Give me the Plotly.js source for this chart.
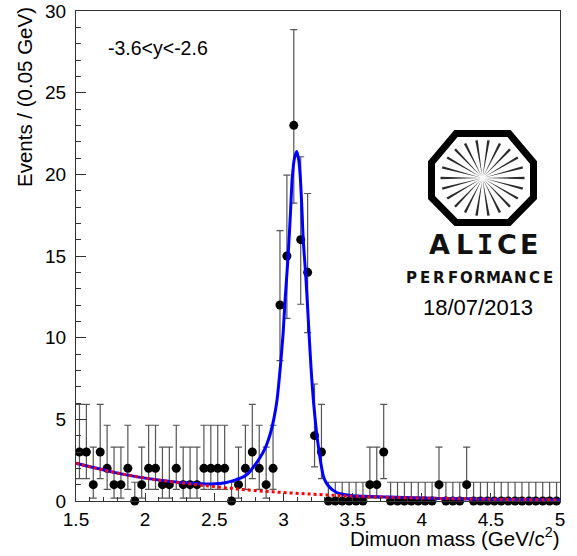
<!DOCTYPE html>
<html>
<head>
<meta charset="utf-8">
<script src="https://cdn.plot.ly/plotly-3.0.1.min.js"></script>
<style>
html,body{margin:0;padding:0;background:#fff;}
#chart{width:577px;height:556px;}
</style>
</head>
<body>
<div id="chart"></div>
<script>
// ---- data ----
const binCenters = [1.525,1.575,1.625,1.675,1.725,1.775,1.825,1.875,1.925,1.975,
  2.025,2.075,2.125,2.175,2.225,2.275,2.325,2.375,2.425,2.475,
  2.525,2.575,2.625,2.675,2.725,2.775,2.825,2.875,2.925,2.975,
  3.025,3.075,3.125,3.175,3.225,3.275,3.325,3.375,3.425,3.475,
  3.525,3.575,3.625,3.675,3.725,3.775,3.825,3.875,3.925,3.975,
  4.025,4.075,4.125,4.175,4.225,4.275,4.325,4.375,4.425,4.475,
  4.525,4.575,4.625,4.675,4.725,4.775,4.825,4.875,4.925,4.975];
const counts = [3,3,1,3,2,1,1,2,0,1,
  2,2,1,1,2,1,1,1,2,2,
  2,2,0,1,2,3,2,1,2,12,
  15,23,16,14,4,3,0,0,0,0,
  0,0,1,1,3,0,0,0,0,0,
  0,0,1,0,0,0,1,0,0,0,
  0,0,0,0,0,0,0,0,0,0];
// Poisson 68% intervals (lower / upper edge) per observed count
const intervalLow  = {0:0, 1:0.173, 2:0.708, 3:1.367, 4:2.086, 12:8.589, 14:10.308, 15:11.175, 16:12.046, 23:18.243};
const intervalHigh = {0:1.148, 1:3.300, 2:4.638, 3:5.918, 4:7.163, 12:16.555, 14:18.826, 15:19.954, 16:21.078, 23:28.861};

// total fit (blue)
const fitX = [1.5,1.75,2.0,2.25,2.4,2.5,2.58,2.65,2.713,2.75,2.785,2.83,2.862,2.885,2.906,2.93,2.954,2.978,2.998,3.012,
  3.034,3.051,3.063,3.08,3.097,3.112,3.123,3.135,3.143,3.16,3.172,3.185,3.199,3.216,3.24,3.256,3.275,3.29,3.31,3.33,
  3.36,3.39,3.45,3.5,3.75,4.0,4.25,4.5,4.75,5.0];
const fitY = [2.31,1.80,1.40,1.14,1.06,1.05,1.12,1.28,1.49,1.72,2.1,2.65,3.13,3.6,4.15,5.0,6.2,8.24,10.3,12.3,
  15.0,17.65,19.7,21.0,21.4,20.8,19.7,17.65,16.0,14.0,12.3,10.3,8.24,6.2,4.15,3.13,2.1,1.49,1.1,0.88,
  0.65,0.5,0.38,0.32,0.24,0.18,0.14,0.11,0.085,0.065];
// background (red dotted)
const bkgX = [1.5,1.75,2.0,2.25,2.5,2.75,3.0,3.25,3.5,3.75,4.0,4.25,4.5,4.75,5.0];
const bkgY = [2.31,1.80,1.40,1.12,0.88,0.67,0.52,0.40,0.30,0.23,0.18,0.14,0.11,0.085,0.065];

const rapidityLabel = '-3.6&lt;y&lt;-2.6';
const dateLabel = '18/07/2013';
const xTitle = 'Dimuon mass (GeV/c<sup>2</sup>)';
const yTitle = 'Events / (0.05 GeV)';
const refLabel = 'ALI-PERF-56950';

// ---- derived ----
const errPlus = counts.map(n => intervalHigh[n] - n);
const errMinus = counts.map(n => n - intervalLow[n]);

// pixel -> paper helpers for decoration placement
const L = 76, R = 560, T = 11, B = 501;
const px = v => (v - L) / (R - L);
const py = v => (B - v) / (B - T);

const FONT = 'Liberation Sans, Arial, Helvetica, sans-serif';

const traces = [
  {
    x: binCenters, y: counts, type: 'scatter', mode: 'markers',
    marker: {color: '#000', size: 9},
    cliponaxis: false,
    error_y: {type: 'data', symmetric: false, array: errPlus, arrayminus: errMinus,
              color: '#555', thickness: 1.2, width: 3.5},
    hoverinfo: 'x+y'
  },
  {
    x: fitX, y: fitY, type: 'scatter', mode: 'lines',
    line: {color: '#0000ff', width: 3, shape: 'spline', smoothing: 0.5}
  },
  {
    x: bkgX, y: bkgY, type: 'scatter', mode: 'lines',
    line: {color: '#ff0000', width: 3, dash: 'dot', shape: 'spline'}
  }
];

// ALICE logo shapes
const shapes = [];
const oct = [[456,133.5],[509,133.5],[533.5,162.5],[533.5,197.5],[509,222.5],[456,222.5],[431.5,197.5],[431.5,162.5]];
let path = 'M ' + oct.map(p => px(p[0]) + ',' + py(p[1])).join(' L ') + ' Z';
shapes.push({type: 'path', xref: 'paper', yref: 'paper', path: path,
             line: {color: '#000', width: 7}, fillcolor: 'rgba(0,0,0,0)'});
const cx = 482.5, cy = 178, rx = 42, ry = 38, nRays = 22;
for (let i = 0; i < nRays; i++) {
  const a = i * 2 * Math.PI / nRays;
  const da = 0.03;
  const x0 = cx + 2 * Math.cos(a), y0 = cy + 2 * Math.sin(a);
  const x1 = cx + rx * Math.cos(a - da), y1 = cy + ry * Math.sin(a - da);
  const x2 = cx + rx * Math.cos(a + da), y2 = cy + ry * Math.sin(a + da);
  shapes.push({type: 'path', xref: 'paper', yref: 'paper',
    path: `M ${px(x0)},${py(y0)} L ${px(x1)},${py(y1)} L ${px(x2)},${py(y2)} Z`,
    line: {width: 0}, fillcolor: '#2a2a2a'});
}

const annotations = [];
function addText(text, x, y, size, opts) {
  annotations.push(Object.assign({
    text: text, xref: 'paper', yref: 'paper', x: px(x), y: py(y),
    xanchor: 'center', yanchor: 'middle', showarrow: false,
    font: {family: FONT, size: size, color: '#000'}
  }, opts || {}));
}
// rapidity label
addText(rapidityLabel, 106, 48, 19.5, {xanchor: 'left'});
// ALICE letters
const aliceLetters = ['A','L','I','C','E'];
const aliceX = [439, 464, 485, 507, 529];
aliceLetters.forEach((c, i) => addText('<b>' + c + '</b>', aliceX[i], 245, 27,
  {font: {family: c === 'I' ? 'DejaVu Sans Mono' : 'DejaVu Sans', size: 27, color: '#111'}}));
const perfLetters = 'PERFORMANCE'.split('');
perfLetters.forEach((c, i) => addText('<b>' + c + '</b>', 411.8 + 13.6 * i, 278, 15,
  {font: {family: 'DejaVu Sans', size: 15, color: '#111'}}));
addText(dateLabel, 478, 308, 22);
// axis titles
addText(xTitle, 562, 537, 20.5, {xanchor: 'right'});
addText(yTitle, 24, 97, 20.5, {textangle: -90});
// faint reference label (cut at the bottom)
addText(refLabel, 97, 552, 15, {xanchor: 'right', yanchor: 'top', font: {family: FONT, size: 15, color: '#aaaaaa'}});

const axisCommon = {
  showgrid: false, zeroline: false, showline: true, mirror: true,
  linecolor: '#333', linewidth: 1, ticks: 'inside', tickcolor: '#333',
  tickfont: {family: FONT, size: 19, color: '#000'}, automargin: false
};

const layout = {
  width: 577, height: 556,
  margin: {l: L, r: 577 - R, t: T, b: 556 - B},
  paper_bgcolor: '#fff', plot_bgcolor: '#fff',
  showlegend: false,
  xaxis: Object.assign({}, axisCommon, {
    range: [1.5, 5], dtick: 0.5, tick0: 0, ticklen: 8, ticklabelstandoff: 1,
    minor: {dtick: 0.1, ticklen: 4, ticks: 'inside', tickcolor: '#333'}
  }),
  yaxis: Object.assign({}, axisCommon, {
    range: [0, 30], dtick: 5, tick0: 0, ticklen: 10, ticklabelstandoff: 5,
    minor: {dtick: 1, ticklen: 5, ticks: 'inside', tickcolor: '#333'}
  }),
  shapes: shapes,
  annotations: annotations
};

Plotly.newPlot('chart', traces, layout, {displayModeBar: false, staticPlot: true});
</script>
</body>
</html>
